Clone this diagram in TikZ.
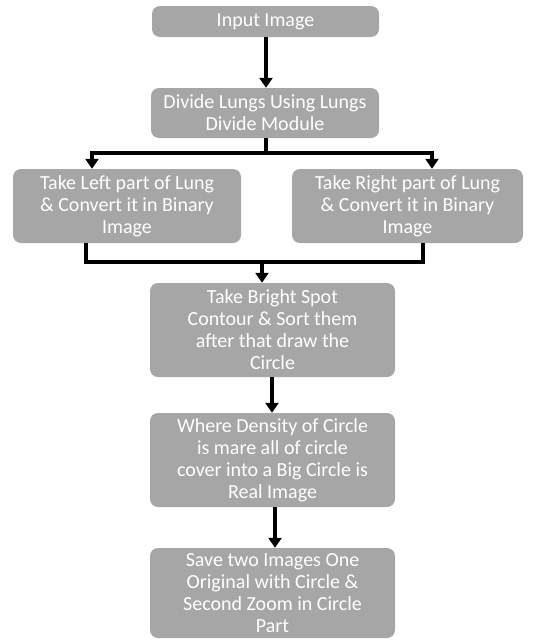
\documentclass[tikz,border=0pt]{standalone}
\usepackage{fontspec}
\setmainfont{Carlito}
\usetikzlibrary{arrows.meta,calc}
\begin{document}
\begin{tikzpicture}[x=1pt,y=-1pt,
  box/.style={fill=boxgray,draw=none,rounded corners=8pt,text=white,align=center,
    font=\fontsize{20}{22}\selectfont,inner sep=0pt},
  conn/.style={line width=3.4pt,black},
  arr/.style={conn,-{Triangle[width=13pt,length=10pt]}}]
\definecolor{boxgray}{HTML}{A6A6A6}
\useasboundingbox (0,0) rectangle (537,640);
\node[box,minimum width=227pt,minimum height=31pt] (b1) at (265.5,21.5) {Input Image};
\node[box,minimum width=228pt,minimum height=50pt] (b2) at (265,113) {Divide Lungs Using Lungs\\Divide Module};
\node[box,minimum width=228pt,minimum height=74pt] (L) at (127,206) {Take Left part of Lung\\\& Convert it in Binary\\Image};
\node[box,minimum width=231pt,minimum height=74pt] (R) at (407.5,206) {Take Right part of Lung\\\& Convert it in Binary\\Image};
\node[box,minimum width=245pt,minimum height=94pt] (b3) at (272.5,330) {Take Bright Spot\\Contour \& Sort them\\after that draw the\\Circle};
\node[box,minimum width=245pt,minimum height=94pt] (b4) at (272.5,460) {Where Density of Circle\\is mare all of circle\\cover into a Big Circle is\\Real Image};
\node[box,minimum width=245pt,minimum height=90pt] (b5) at (272.5,593) {Save two Images One\\Original with Circle \&\\Second Zoom in Circle\\Part};
\coordinate (j1) at (266,153);
\coordinate (j2) at (262,262);
\draw[arr] (b1.south -| j1) -- (b2.north -| j1);
\draw[conn] (b2.south -| j1) -- (j1);
\draw[arr] (j1) -| ([xshift=-35pt]L.north);
\draw[arr] (j1) -| ([xshift=24.5pt]R.north);
\draw[conn] ([xshift=-41pt]L.south) |- (j2);
\draw[conn] ([xshift=15.5pt]R.south) |- (j2);
\draw[arr] (j2) -- (b3.north -| j2);
\draw[arr] ([xshift=-0.5pt]b3.south) -- ([xshift=-0.5pt]b4.north);
\draw[arr] ([xshift=2.5pt]b4.south) -- ([xshift=2.5pt]b5.north);
\end{tikzpicture}
\end{document}
